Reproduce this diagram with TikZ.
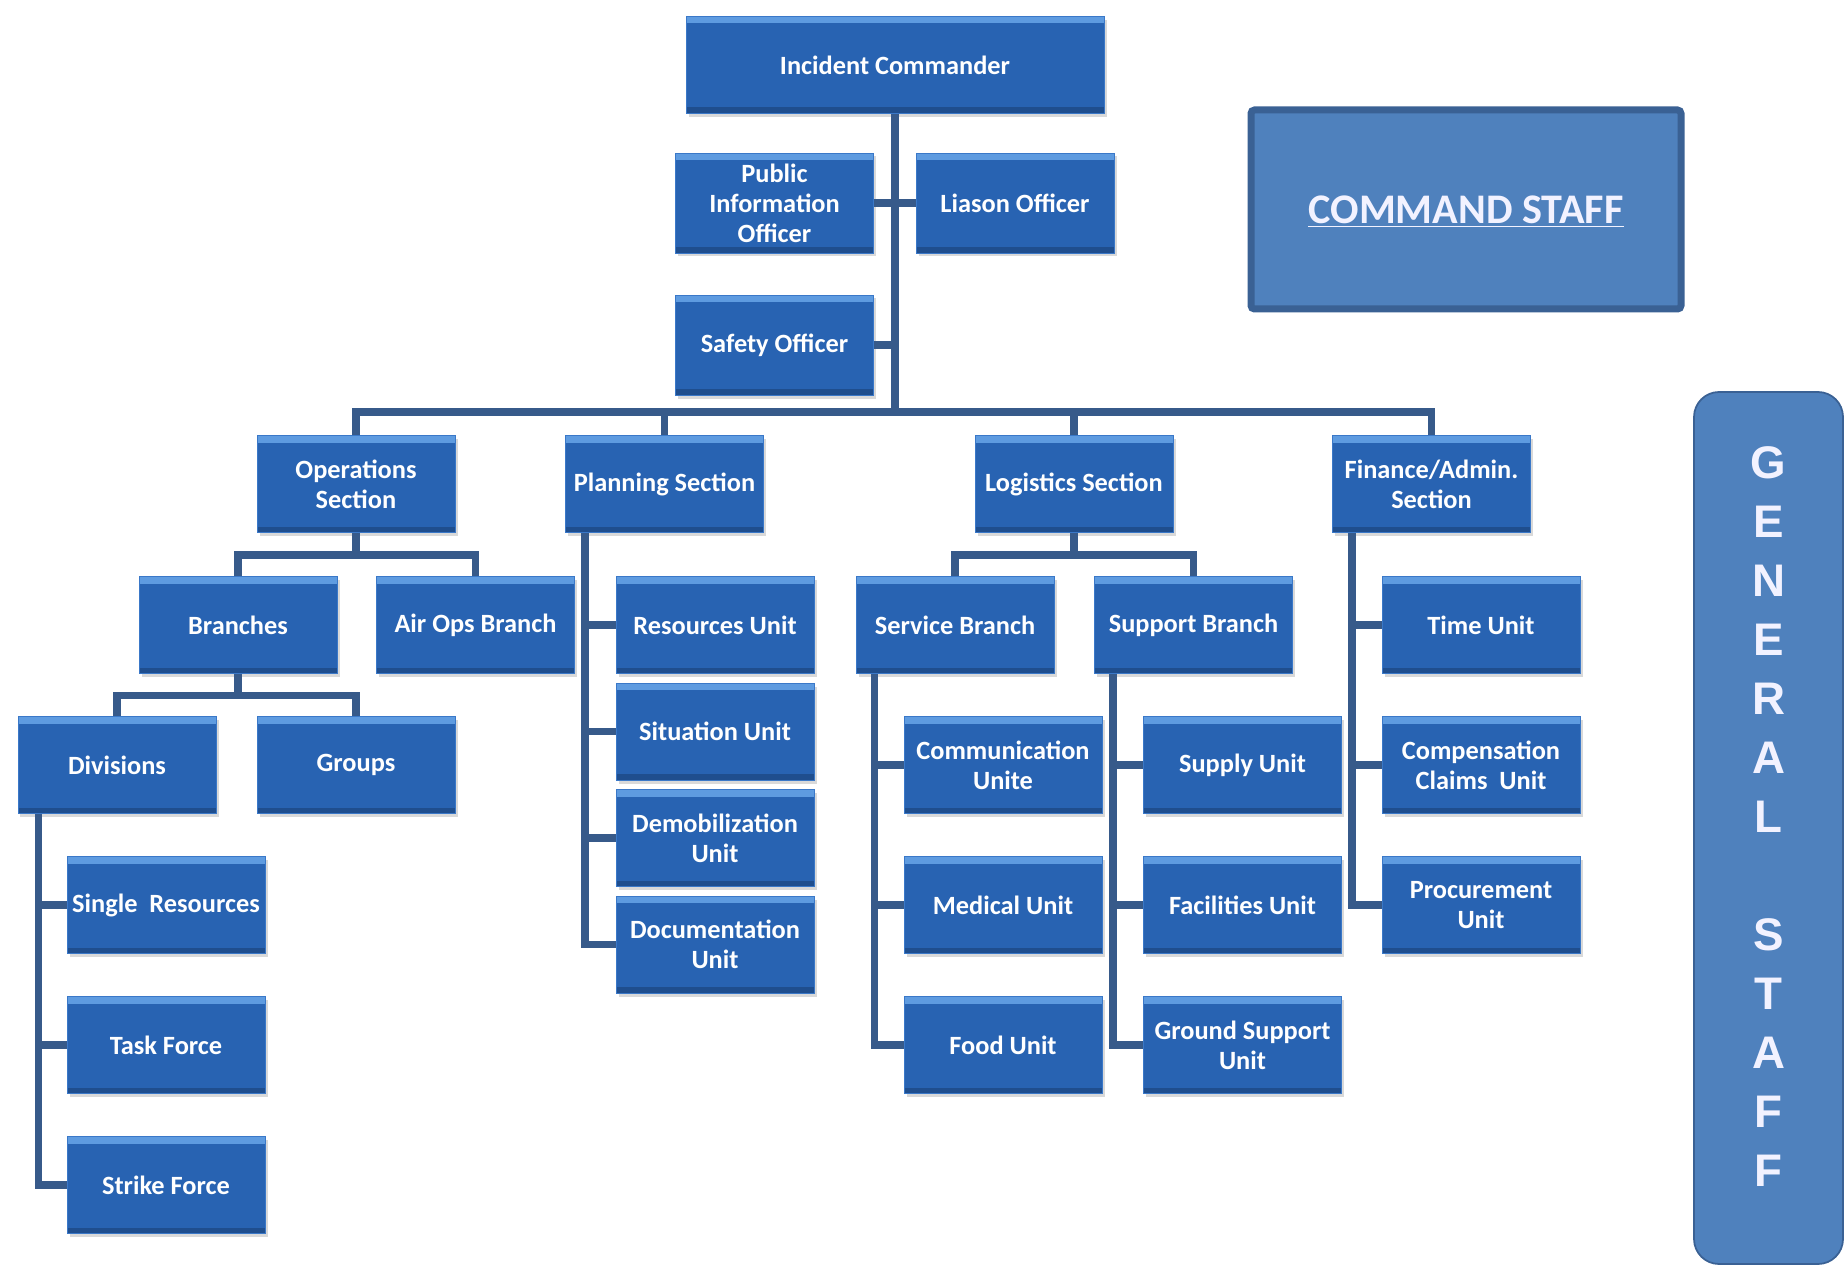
\documentclass[tikz,border=0pt]{standalone}
\usepackage{fontspec}
\setmainfont{Carlito}
\newfontfamily\gsfont{Liberation Sans}
\usetikzlibrary{positioning, shadows}

\definecolor{boxfill}{HTML}{2863B2}
\definecolor{boxhi}{HTML}{5E9BE0}
\definecolor{boxlo}{HTML}{1F4E8E}
\definecolor{boxedge}{HTML}{3A78C8}
\definecolor{linkblue}{HTML}{375A8A}
\definecolor{staffblue}{HTML}{4F81BD}
\definecolor{staffedge}{HTML}{3A6194}

\begin{document}
\begin{tikzpicture}[
    node distance=2.8cm,
    on grid,
    unit/.style={draw=boxedge, line width=0.5pt, fill=boxfill, text=white,
      minimum width=3.96cm, minimum height=1.94cm, inner sep=1pt, align=center,
      font=\bfseries\fontsize{15}{17}\selectfont,
      drop shadow={opacity=0.3, shadow xshift=0.05cm, shadow yshift=-0.07cm},
      path picture={
        \fill[boxhi] (path picture bounding box.north west) rectangle ([yshift=-0.14cm]path picture bounding box.north east);
        \fill[boxlo] (path picture bounding box.south west) rectangle ([yshift=0.12cm]path picture bounding box.south east);
      }},
    link/.style={draw=linkblue, line width=0.15cm},
    staff/.style={fill=staffblue, draw=staffedge, text=white!95!blue}
]
   \useasboundingbox (0,0) rectangle (36.94,-25.32);

   % Command and officers
   \node[unit, minimum width=8.36cm] (ic) at (17.9,-1.3) {Incident Commander};
   \node[unit, minimum height=2cm] (pio) at (15.49,-4.06) {Public\\Information\\Officer};
   \node[unit, minimum height=2cm] (lia) [right=4.81cm of pio] {Liason Officer};
   \node[unit, minimum height=2cm] (safety) [below=2.84cm of pio] {Safety Officer};

   % Sections
   \node[unit] (ops) at (7.12,-9.68) {Operations\\Section};
   \node[unit] (plan) at (13.29,-9.68) {Planning Section};
   \node[unit] (log) at (21.48,-9.68) {Logistics Section};
   \node[unit] (fin) at (28.63,-9.68) {Finance/Admin.\\Section};

   % Operations
   \node[unit] (branches) at (4.76,-12.5) {Branches};
   \node[unit] (airops) [right=4.75cm of branches] {Air Ops Branch};
   \node[unit] (divs) at (2.34,-15.3) {Divisions};
   \node[unit] (groups) [right=4.78cm of divs] {Groups};
   \node[unit] (single) at (3.32,-18.1) {Single~~Resources};
   \node[unit] (task) [below=of single] {Task Force};
   \node[unit] (strike) [below=of task] {Strike Force};

   % Planning
   \node[unit] (resunit) at (14.3,-12.5) {Resources Unit};
   \node[unit] (situnit) [below=2.13cm of resunit] {Situation Unit};
   \node[unit] (demob) [below=2.13cm of situnit] {Demobilization\\Unit};
   \node[unit] (docunit) [below=2.13cm of demob] {Documentation\\Unit};

   % Logistics
   \node[unit] (service) at (19.1,-12.5) {Service Branch};
   \node[unit] (support) [right=4.77cm of service] {Support Branch};
   \node[unit] (comms) at (20.06,-15.3) {Communication\\Unite};
   \node[unit] (medical) [below=of comms] {Medical Unit};
   \node[unit] (food) [below=of medical] {Food Unit};
   \node[unit] (supply) [right=4.79cm of comms] {Supply Unit};
   \node[unit] (facilities) [below=of supply] {Facilities Unit};
   \node[unit] (ground) [below=of facilities] {Ground Support\\Unit};

   % Finance
   \node[unit] (timeunit) at (29.62,-12.5) {Time Unit};
   \node[unit] (comp) [below=of timeunit] {Compensation\\Claims~~Unit};
   \node[unit] (proc) [below=of comp] {Procurement\\Unit};

   % Staff labels
   \node[staff, line width=0.14cm, rounded corners=2pt, minimum width=8.6cm, minimum height=3.98cm,
         text depth=0pt, font=\bfseries\fontsize{24}{28}\selectfont] (cmdstaff) at (29.32,-4.19) {\underline{COMMAND STAFF}};
   \node[staff, line width=1pt, rounded corners=0.5cm, minimum width=2.98cm, minimum height=17.44cm, align=center,
         text depth=0.45cm, font=\gsfont\bfseries\fontsize{26}{33.6}\selectfont] (genstaff) at (35.37,-16.56)
         {G\\E\\N\\E\\R\\A\\L\\[33.6pt]S\\T\\A\\F\\F};

   % Connectors
   \coordinate (hub) at (17.9,-8.24);
   \draw[link] (ic.south) -- (hub);
   \draw[link] (pio.east) -- (pio.east -| ic.south);
   \draw[link] (lia.west) -- (lia.west -| ic.south);
   \draw[link] (safety.east) -- (safety.east -| ic.south);
   \draw[link] (ops.north) |- (hub) -| (fin.north);
   \draw[link] (plan.north) -- (plan.north |- hub);
   \draw[link] (log.north) -- (log.north |- hub);

   \coordinate (opsfork) at ([yshift=-0.44cm]ops.south);
   \draw[link] (ops.south) -- (opsfork);
   \draw[link] (branches.north) |- (opsfork) -| (airops.north);

   \coordinate (brfork) at ([yshift=-0.43cm]branches.south);
   \draw[link] (branches.south) -- (brfork);
   \draw[link] (divs.north) |- (brfork) -| (groups.north);

   \coordinate (divrail) at ([xshift=0.42cm]divs.south west);
   \draw[link] (divrail) |- (strike.west);
   \draw[link] (single.west) -- (single.west -| divrail);
   \draw[link] (task.west) -- (task.west -| divrail);

   \coordinate (planrail) at ([xshift=0.4cm]plan.south west);
   \draw[link] (planrail) |- (docunit.west);
   \draw[link] (resunit.west) -- (resunit.west -| planrail);
   \draw[link] (situnit.west) -- (situnit.west -| planrail);
   \draw[link] (demob.west) -- (demob.west -| planrail);

   \coordinate (logfork) at ([yshift=-0.44cm]log.south);
   \draw[link] (log.south) -- (logfork);
   \draw[link] (service.north) |- (logfork) -| (support.north);

   \coordinate (servrail) at ([xshift=0.38cm]service.south west);
   \draw[link] (servrail) |- (food.west);
   \draw[link] (comms.west) -- (comms.west -| servrail);
   \draw[link] (medical.west) -- (medical.west -| servrail);

   \coordinate (suprail) at ([xshift=0.38cm]support.south west);
   \draw[link] (suprail) |- (ground.west);
   \draw[link] (supply.west) -- (supply.west -| suprail);
   \draw[link] (facilities.west) -- (facilities.west -| suprail);

   \coordinate (finrail) at ([xshift=0.4cm]fin.south west);
   \draw[link] (finrail) |- (proc.west);
   \draw[link] (timeunit.west) -- (timeunit.west -| finrail);
   \draw[link] (comp.west) -- (comp.west -| finrail);

\end{tikzpicture}
\end{document}
